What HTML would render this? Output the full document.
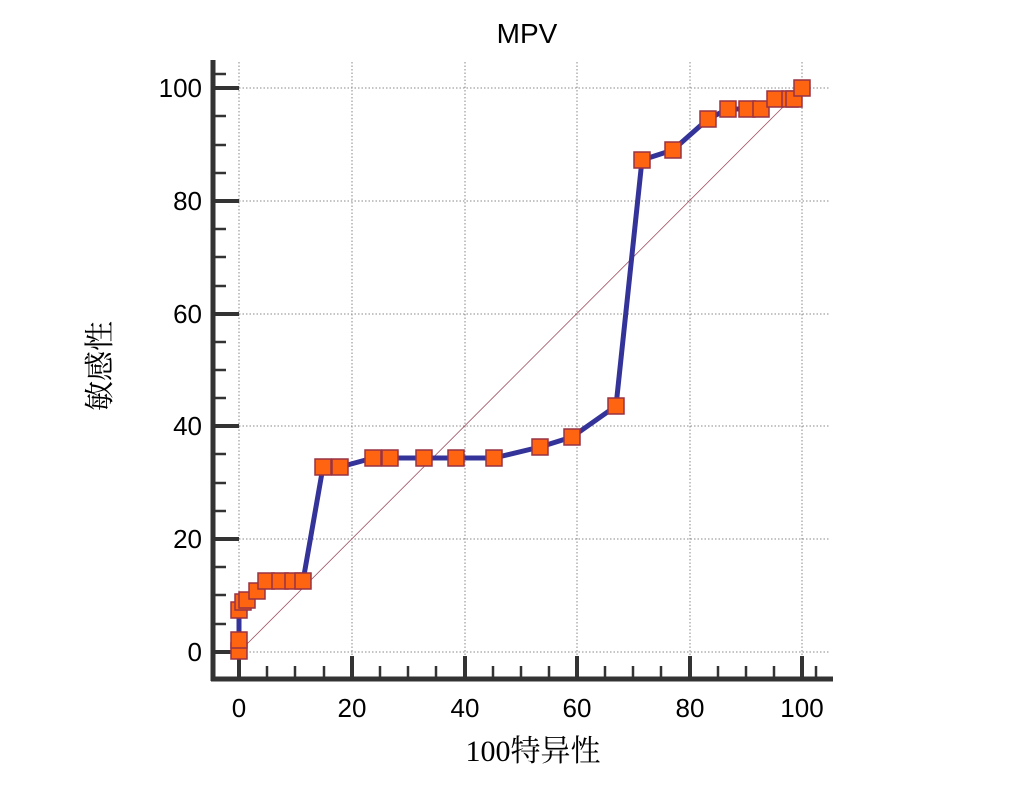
<!DOCTYPE html>
<html><head><meta charset="utf-8"><style>
html,body{margin:0;padding:0;background:#fff;}
svg text{font-family:"Liberation Sans","Noto Sans CJK SC",sans-serif;}
</style></head><body>
<svg width="1033" height="805" viewBox="0 0 1033 805" xmlns="http://www.w3.org/2000/svg">
<rect width="1033" height="805" fill="#fff"/>
<text x="527" y="43" font-size="28" text-anchor="middle" fill="#000">MPV</text>
<g stroke="#888" stroke-width="1" stroke-dasharray="1.5,2" fill="none">
<line x1="239" y1="62" x2="239" y2="655"/>
<line x1="352" y1="62" x2="352" y2="655"/>
<line x1="465" y1="62" x2="465" y2="655"/>
<line x1="577" y1="62" x2="577" y2="655"/>
<line x1="690" y1="62" x2="690" y2="655"/>
<line x1="802" y1="62" x2="802" y2="655"/>
<line x1="239" y1="652" x2="830" y2="652"/>
<line x1="239" y1="539" x2="830" y2="539"/>
<line x1="239" y1="426" x2="830" y2="426"/>
<line x1="239" y1="314" x2="830" y2="314"/>
<line x1="239" y1="201" x2="830" y2="201"/>
<line x1="239" y1="88" x2="830" y2="88"/>
</g>
<line x1="239" y1="652" x2="802" y2="88" stroke="#a05060" stroke-width="0.8"/>
<g stroke="#333" fill="none">
<line x1="213" y1="60" x2="213" y2="681" stroke-width="5"/>
<line x1="211" y1="679" x2="833" y2="679" stroke-width="5"/>
<g stroke-width="4">
<line x1="213" y1="652" x2="239" y2="652"/><line x1="213" y1="539" x2="239" y2="539"/>
<line x1="213" y1="426" x2="239" y2="426"/><line x1="213" y1="314" x2="239" y2="314"/>
<line x1="213" y1="201" x2="239" y2="201"/><line x1="213" y1="88" x2="239" y2="88"/>
<line x1="239" y1="679" x2="239" y2="656"/><line x1="352" y1="679" x2="352" y2="656"/>
<line x1="465" y1="679" x2="465" y2="656"/><line x1="577" y1="679" x2="577" y2="656"/>
<line x1="690" y1="679" x2="690" y2="656"/><line x1="802" y1="679" x2="802" y2="656"/>
</g>
<g stroke-width="2.5">
<line x1="213" y1="624" x2="226" y2="624"/><line x1="213" y1="595" x2="226" y2="595"/><line x1="213" y1="567" x2="226" y2="567"/>
<line x1="213" y1="511" x2="226" y2="511"/><line x1="213" y1="483" x2="226" y2="483"/><line x1="213" y1="454" x2="226" y2="454"/>
<line x1="213" y1="398" x2="226" y2="398"/><line x1="213" y1="370" x2="226" y2="370"/><line x1="213" y1="342" x2="226" y2="342"/>
<line x1="213" y1="286" x2="226" y2="286"/><line x1="213" y1="257" x2="226" y2="257"/><line x1="213" y1="229" x2="226" y2="229"/>
<line x1="213" y1="173" x2="226" y2="173"/><line x1="213" y1="145" x2="226" y2="145"/><line x1="213" y1="116" x2="226" y2="116"/>
<line x1="213" y1="74" x2="226" y2="74"/>
<line x1="267" y1="679" x2="267" y2="666"/><line x1="295" y1="679" x2="295" y2="666"/><line x1="324" y1="679" x2="324" y2="666"/>
<line x1="380" y1="679" x2="380" y2="666"/><line x1="408" y1="679" x2="408" y2="666"/><line x1="436" y1="679" x2="436" y2="666"/>
<line x1="493" y1="679" x2="493" y2="666"/><line x1="521" y1="679" x2="521" y2="666"/><line x1="549" y1="679" x2="549" y2="666"/>
<line x1="605" y1="679" x2="605" y2="666"/><line x1="633" y1="679" x2="633" y2="666"/><line x1="661" y1="679" x2="661" y2="666"/>
<line x1="718" y1="679" x2="718" y2="666"/><line x1="746" y1="679" x2="746" y2="666"/><line x1="774" y1="679" x2="774" y2="666"/>
<line x1="816" y1="679" x2="816" y2="666"/>
</g>
</g>
<g font-size="26" fill="#000" text-anchor="end">
<text x="202" y="661">0</text><text x="202" y="548">20</text><text x="202" y="435">40</text>
<text x="202" y="323">60</text><text x="202" y="210">80</text><text x="202" y="97">100</text>
</g>
<g font-size="26" fill="#000" text-anchor="middle">
<text x="239" y="717">0</text><text x="352" y="717">20</text><text x="465" y="717">40</text>
<text x="577" y="717">60</text><text x="690" y="717">80</text><text x="802" y="717">100</text>
</g>
<text x="533" y="761" font-size="30" text-anchor="middle" fill="#000" style="font-family:'Liberation Serif','Noto Serif CJK SC',serif">100特异性</text>
<text transform="translate(110,366) rotate(-90)" font-size="30" text-anchor="middle" fill="#000" style="font-family:'Liberation Serif','Noto Serif CJK SC',serif">敏感性</text>
<polyline fill="none" stroke="#333399" stroke-width="5" stroke-linejoin="round" points="239,651 239,640 239,610 243,602 247,600 257,591 266,581 280,581 293,581 303,581 323,467 340,467 373,458 390,458 424,458 456,458 494,458 540,447 572,437 616,406 642,160 673,150 708,119 728,109 747,109 761,109 775,99 790,99 794,99 802,88"/>
<g fill="#ff6410" stroke="#993344" stroke-width="1.5">
<rect x="231" y="643" width="16" height="16"/><rect x="231" y="632" width="16" height="16"/><rect x="231" y="602" width="16" height="16"/>
<rect x="235" y="594" width="16" height="16"/><rect x="239" y="592" width="16" height="16"/><rect x="249" y="583" width="16" height="16"/>
<rect x="258" y="573" width="16" height="16"/><rect x="272" y="573" width="16" height="16"/><rect x="285" y="573" width="16" height="16"/>
<rect x="295" y="573" width="16" height="16"/><rect x="315" y="459" width="16" height="16"/><rect x="332" y="459" width="16" height="16"/>
<rect x="365" y="450" width="16" height="16"/><rect x="382" y="450" width="16" height="16"/><rect x="416" y="450" width="16" height="16"/>
<rect x="448" y="450" width="16" height="16"/><rect x="486" y="450" width="16" height="16"/><rect x="532" y="439" width="16" height="16"/>
<rect x="564" y="429" width="16" height="16"/><rect x="608" y="398" width="16" height="16"/><rect x="634" y="152" width="16" height="16"/>
<rect x="665" y="142" width="16" height="16"/><rect x="700" y="111" width="16" height="16"/><rect x="720" y="101" width="16" height="16"/>
<rect x="739" y="101" width="16" height="16"/><rect x="753" y="101" width="16" height="16"/><rect x="767" y="91" width="16" height="16"/>
<rect x="782" y="91" width="16" height="16"/><rect x="786" y="91" width="16" height="16"/><rect x="794" y="80" width="16" height="16"/>
</g>
</svg>
</body></html>
